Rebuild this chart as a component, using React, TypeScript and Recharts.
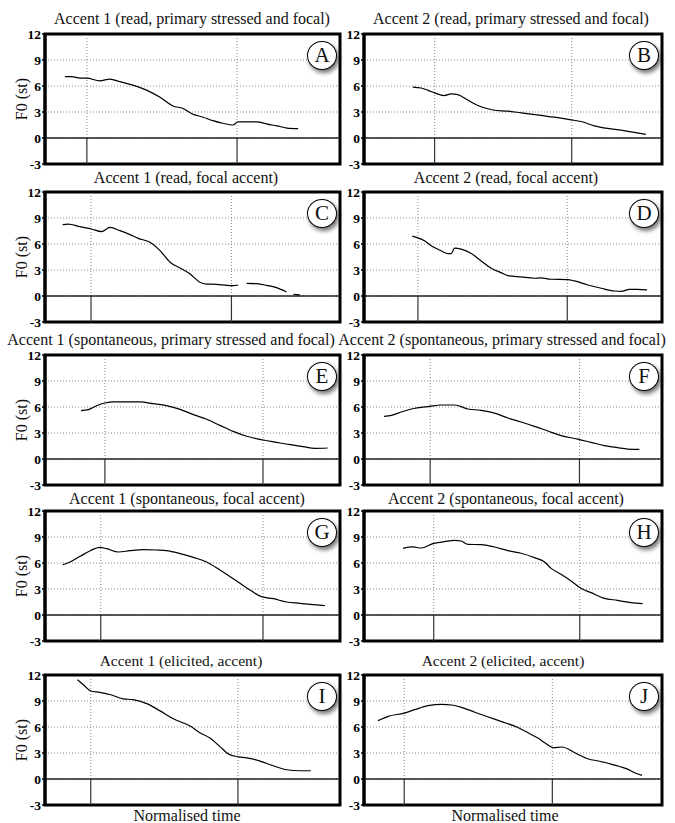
import React from "react";
import { LineChart, Line, XAxis, YAxis, CartesianGrid, ReferenceLine, ReferenceArea } from "recharts";

const FONT = '"Liberation Serif", "Times New Roman", serif';

const titles = [
  "Accent 1 (read, primary stressed and focal)",
  "Accent 2 (read, primary stressed and focal)",
  "Accent 1 (read, focal accent)",
  "Accent 2 (read, focal accent)",
  "Accent 1 (spontaneous, primary stressed and focal)",
  "Accent 2 (spontaneous, primary stressed and focal)",
  "Accent 1 (spontaneous, focal accent)",
  "Accent 2 (spontaneous, focal accent)",
  "Accent 1 (elicited, accent)",
  "Accent 2 (elicited, accent)",
];
const letters = ["A", "B", "C", "D", "E", "F", "G", "H", "I", "J"];
const yTicks = [-3, 0, 3, 6, 9, 12];
const xLabel = "Normalised time";
const yLabel = "F0 (st)";

// normalised time (0-100) and F0 in semitones
const tA = [6.8, 9.0, 11.9, 14.1, 18.6, 22.0, 25.4, 29.8, 34.6, 39.0, 43.4, 46.8, 49.8, 53.6, 56.9, 60.3, 63.7, 65.4, 68.5, 71.9, 75.3, 78.6, 82.0, 85.8];
const f0A = [7.08, 7.08, 6.9, 6.9, 6.6, 6.8, 6.5, 6.1, 5.5, 4.7, 3.7, 3.4, 2.8, 2.4, 2.0, 1.7, 1.5, 1.85, 1.85, 1.85, 1.6, 1.4, 1.15, 1.08];
const markA = [14.2, 65.1];

const tB = [16.4, 19.2, 21.5, 23.7, 27.0, 29.3, 31.5, 34.9, 39.3, 43.8, 48.3, 52.7, 59.4, 63.9, 69.5, 72.8, 77.3, 81.8, 86.3, 90.7, 94.6];
const f0B = [5.88, 5.77, 5.5, 5.2, 4.9, 5.1, 5.0, 4.35, 3.6, 3.2, 3.1, 2.9, 2.6, 2.4, 2.1, 1.9, 1.4, 1.1, 0.9, 0.65, 0.42];
const markB = [23.7, 69.7];

const tC = [6.0, 7.9, 11.9, 15.8, 19.2, 22.0, 25.4, 28.8, 31.6, 35.6, 39.0, 42.4, 45.8, 49.2, 52.5, 54.8, 58.2, 61.6, 63.8, 65.5, 67.0, 68.4, 71.8, 75.1, 78.5, 81.9, 83.0, 84.2, 86.4];
const f0C = [8.23, 8.3, 8.0, 7.73, 7.42, 7.92, 7.54, 7.08, 6.65, 6.2, 5.23, 3.9, 3.23, 2.54, 1.58, 1.38, 1.35, 1.23, 1.2, 1.27, null, 1.46, 1.42, 1.23, 0.96, 0.46, null, 0.2, 0.12];
const markC = [15.6, 63.2];

const tD = [16.2, 18.1, 20.3, 23.1, 26.0, 28.2, 29.3, 30.4, 32.6, 36.0, 39.3, 42.7, 46.0, 48.3, 52.7, 57.2, 59.4, 62.8, 68.4, 70.6, 75.1, 79.6, 84.0, 86.3, 89.1, 91.8, 95.0];
const f0D = [6.9, 6.7, 6.37, 5.67, 5.2, 4.9, 4.9, 5.52, 5.4, 4.9, 4.05, 3.2, 2.7, 2.36, 2.2, 2.05, 2.08, 1.93, 1.9, 1.74, 1.27, 0.89, 0.58, 0.54, 0.77, 0.77, 0.7];
const markD = [18.1, 68.2];

const tE = [12.2, 14.7, 17.5, 20.3, 23.2, 27.7, 32.2, 36.7, 41.2, 45.8, 50.3, 54.8, 59.3, 63.8, 68.4, 74.0, 78.5, 83.1, 87.6, 91.5, 95.8];
const f0E = [5.58, 5.7, 6.15, 6.46, 6.6, 6.6, 6.58, 6.38, 6.15, 5.73, 5.12, 4.58, 3.88, 3.19, 2.62, 2.19, 1.92, 1.65, 1.42, 1.23, 1.27];
const markE = [20.3, 73.9];

const tF = [6.7, 9.2, 12.5, 15.9, 22.0, 25.9, 30.4, 34.9, 39.3, 43.8, 48.3, 52.7, 57.2, 61.7, 66.1, 71.7, 76.2, 80.7, 85.1, 88.5, 92.4];
const f0F = [4.92, 5.04, 5.42, 5.77, 6.08, 6.23, 6.23, 5.77, 5.62, 5.3, 4.73, 4.27, 3.77, 3.23, 2.7, 2.3, 1.92, 1.54, 1.31, 1.15, 1.12];
const markF = [22.2, 72.3];

const tG = [6.0, 8.5, 11.9, 15.3, 18.6, 20.9, 24.9, 28.8, 33.3, 37.9, 41.2, 45.8, 50.3, 54.8, 59.3, 63.8, 68.4, 73.4, 77.4, 81.9, 86.4, 91.0, 94.9];
const f0G = [5.8, 6.12, 6.77, 7.42, 7.8, 7.65, 7.27, 7.42, 7.54, 7.5, 7.42, 7.08, 6.65, 6.12, 5.19, 4.19, 3.12, 2.12, 1.88, 1.5, 1.35, 1.19, 1.08];
const markG = [18.9, 73.9];

const tH = [13.1, 16.4, 19.2, 23.1, 27.0, 30.4, 32.6, 34.9, 39.3, 43.8, 48.3, 52.7, 57.2, 60.5, 62.8, 66.1, 69.5, 72.8, 76.2, 80.7, 85.1, 89.6, 93.5];
const f0H = [7.69, 7.85, 7.73, 8.23, 8.46, 8.62, 8.54, 8.15, 8.12, 7.85, 7.42, 7.12, 6.62, 6.15, 5.38, 4.69, 3.92, 3.08, 2.58, 1.92, 1.69, 1.42, 1.31];
const markH = [23.4, 72.4];

const tI = [11.0, 13.0, 15.5, 18.6, 22.6, 26.6, 29.9, 34.5, 39.0, 43.5, 49.2, 52.5, 55.9, 59.3, 62.1, 65.5, 68.4, 72.9, 77.4, 81.9, 86.4, 90.1];
const f0I = [11.45, 10.88, 10.15, 10.0, 9.69, 9.24, 9.16, 8.7, 7.86, 6.95, 6.11, 5.34, 4.73, 3.74, 2.9, 2.56, 2.44, 2.06, 1.53, 1.07, 0.95, 0.95];
const markI = [15.5, 65.4];

const tJ = [4.7, 8.1, 13.5, 17.0, 21.5, 26.0, 29.4, 32.7, 37.2, 41.7, 46.2, 51.8, 55.2, 58.5, 60.8, 63.6, 66.4, 70.9, 75.3, 78.7, 83.2, 88.8, 91.0, 93.3];
const f0J = [6.73, 7.23, 7.6, 8.0, 8.46, 8.62, 8.54, 8.27, 7.7, 7.15, 6.62, 5.92, 5.3, 4.69, 4.15, 3.62, 3.69, 3.0, 2.31, 2.08, 1.69, 1.08, 0.69, 0.42];
const markJ = [13.5, 63.2];

const times = [tA, tB, tC, tD, tE, tF, tG, tH, tI, tJ];
const f0s = [f0A, f0B, f0C, f0D, f0E, f0F, f0G, f0H, f0I, f0J];
const marks = [markA, markB, markC, markD, markE, markF, markG, markH, markI, markJ];

const rowTops = [34, 192, 355, 511, 675];
const titleOffsets = [15, 14, 15, 12, 14];
// title centres per row: [left column, right column]
const titleCentres = [
  [192, 511],
  [186, 506],
  [171, 502],
  [187, 506],
  [181, 503],
];
const titleSizes = [16, 16, 16, 16, 15.5];
const PLOT_H = 130;
const PAD_Y = 10;
const PAD_R = 3;
const cols = [
  { left: 0, axisW: 45, plotW: 295 },
  { left: 340, axisW: 24, plotW: 298 },
];

function BoldTick(props: any) {
  const { x, y, payload } = props;
  return (
    <text x={x} y={y} dy={4.5} textAnchor="end" fill="#000" fontFamily={FONT} fontSize={13.5} fontWeight="bold">
      {payload.value}
    </text>
  );
}

function Panel({ idx }: { idx: number }) {
  const col = idx % 2;
  const row = Math.floor(idx / 2);
  const c = cols[col];
  const top = rowTops[row];
  const plotLeft = c.left + c.axisW;
  const plotRight = plotLeft + c.plotW;
  const data = times[idx].map((t, i) => ({ t, f0: f0s[idx][i] }));

  return (
    <>
      <div
        style={{
          position: "absolute",
          left: titleCentres[row][col],
          top: top - titleOffsets[row] - 9,
          transform: "translateX(-50%)",
          whiteSpace: "nowrap",
          fontFamily: FONT,
          fontSize: titleSizes[row],
          lineHeight: "18px",
          color: "#111",
        }}
      >
        {titles[idx]}
      </div>
      <div style={{ position: "absolute", left: c.left, top: top - PAD_Y }}>
        <LineChart
          width={c.axisW + c.plotW + PAD_R}
          height={PLOT_H + PAD_Y * 2}
          data={data}
          margin={{ top: PAD_Y, right: PAD_R, bottom: PAD_Y, left: 0 }}
        >
          <CartesianGrid vertical={false} stroke="#8a8a8a" strokeDasharray="1 2" />
          <XAxis dataKey="t" type="number" domain={[0, 100]} hide />
          <YAxis
            type="number"
            domain={[-3, 12]}
            ticks={yTicks}
            width={c.axisW}
            interval={0}
            tickSize={3}
            tickMargin={1}
            axisLine={{ stroke: "#000", strokeWidth: 3 }}
            tickLine={{ stroke: "#000", strokeWidth: 1.5 }}
            tick={<BoldTick />}
            label={
              col === 0
                ? { value: yLabel, angle: -90, position: "center", dx: -1, style: { fontFamily: FONT, fontSize: 16, fill: "#111" } }
                : undefined
            }
          />
          {marks[idx].map((m, k) => (
            <ReferenceLine key={"u" + k} segment={[{ x: m, y: 0 }, { x: m, y: 12 }]} stroke="#8a8a8a" strokeDasharray="1 2" />
          ))}
          {marks[idx].map((m, k) => (
            <ReferenceLine key={"d" + k} segment={[{ x: m, y: -3 }, { x: m, y: 0 }]} stroke="#333" strokeWidth={1.2} />
          ))}
          <ReferenceLine y={0} stroke="#222" strokeWidth={1.6} />
          <Line
            type="monotone"
            dataKey="f0"
            stroke="#000"
            strokeWidth={1.2}
            dot={false}
            connectNulls={false}
            isAnimationActive={false}
          />
          <ReferenceArea x1={0} x2={100} y1={-3} y2={12} fill="none" stroke="#000" strokeWidth={3} />
        </LineChart>
      </div>
      <div
        style={{
          position: "absolute",
          left: plotRight - 18 - 15,
          top: top + 22 - 15,
          width: 30,
          height: 29,
          boxSizing: "border-box",
          border: "1.5px solid #000",
          borderRadius: "50%",
          background: "#fff",
          boxShadow: "2px 3px 4px rgba(0,0,0,0.55)",
          display: "flex",
          alignItems: "center",
          justifyContent: "center",
          fontFamily: FONT,
          fontSize: 21,
          lineHeight: 1,
          color: "#111",
        }}
      >
        {letters[idx]}
      </div>
    </>
  );
}

export default function App() {
  return (
    <div style={{ position: "absolute", left: 0, top: 0, width: 675, height: 823, background: "#fff", overflow: "hidden" }}>
      {titles.map((_, i) => (
        <Panel key={i} idx={i} />
      ))}
      {[187, 505].map((cx, i) => (
        <div
          key={i}
          style={{
            position: "absolute",
            left: cx,
            top: 807,
            transform: "translateX(-50%)",
            whiteSpace: "nowrap",
            fontFamily: FONT,
            fontSize: 16,
            lineHeight: "18px",
            color: "#111",
          }}
        >
          {xLabel}
        </div>
      ))}
    </div>
  );
}
